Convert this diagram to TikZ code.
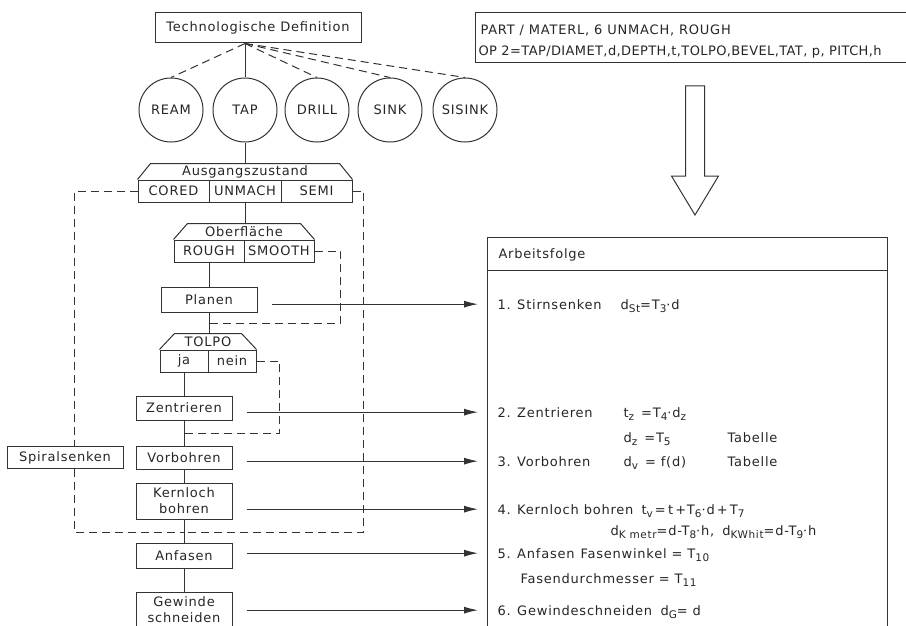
\documentclass[tikz,border=0pt]{standalone}
\usepackage{fontspec}
\setmainfont{DejaVu Sans}[LetterSpace=6]
\usetikzlibrary{arrows.meta}

\newcommand\sbs[1]{\raisebox{-0.45ex}{\fontsize{10.5}{12}\selectfont #1}}

\begin{document}
\begin{tikzpicture}[x=1pt,y=-1pt,line width=1pt,draw=black!80,text=black!85,
    font=\fontsize{13}{16}\selectfont,>={Latex[length=14pt,width=7pt]}]
    \tikzstyle{box}=[draw,minimum width=96pt,minimum height=24pt,inner sep=0pt,align=center]
    \tikzstyle{op}=[draw,circle,minimum size=64pt,inner sep=0pt]
    \tikzstyle{cell}=[draw,minimum height=22pt,inner sep=0pt]
    \tikzstyle{header}=[minimum height=16pt,inner sep=0pt]
    \tikzstyle{ausweich}=[dash pattern=on 8pt off 5pt]
    \tikzstyle{flow}=[->,shorten <=14pt,shorten >=19pt]
    \tikzstyle{entry}=[anchor=base west,inner sep=0pt]

    \useasboundingbox (0,0) rectangle (906,626);

    % Definition und Operationen
    \node[box,minimum width=206pt,minimum height=30pt] (def) at (258,28) {Technologische Definition};
    \foreach \name/\x in {REAM/171,TAP/245,DRILL/317,SINK/390,SISINK/465}
        \node[op] (\name) at (\x,110) {\name};
    \coordinate (defpt) at (def.south -| TAP.north);
    \draw (defpt) -- (TAP);
    \foreach \name in {REAM,DRILL,SINK,SISINK}
        \draw[ausweich] (defpt) -- (\name.north);

    % Entscheidungen
    \node[header] (ausg) at (245,172) {Ausgangszustand};
    \node[cell,minimum width=71pt] (cored) at (173.5,191) {CORED};
    \node[cell,minimum width=72pt] (unmach) at (245,191) {UNMACH};
    \node[cell,minimum width=71pt] (semi) at (316.5,191) {SEMI};
    \draw (cored.north west) -- ++(13,-16) -- ([xshift=-13pt,yshift=16pt]semi.north east) -- (semi.north east);

    \node[header] (ober) at (244,232) {Oberfläche};
    \node[cell,minimum width=70pt] (rough) at (209,251) {ROUGH};
    \node[cell,minimum width=70pt] (smooth) at (279,251) {SMOOTH};
    \draw (rough.north west) -- ++(14,-16) -- ([xshift=-14pt,yshift=16pt]smooth.north east) -- (smooth.north east);

    \node[box,minimum height=25pt] (planen) at (209,300) {Planen};

    \node[header] (tolpo) at (208,342) {TOLPO};
    \node[cell,minimum width=48pt] (ja) at (184,361) {ja};
    \node[cell,minimum width=48pt] (nein) at (232,361) {nein};
    \draw (ja.north west) -- ++(15,-16) -- ([xshift=-15pt,yshift=16pt]nein.north east) -- (nein.north east);

    % Arbeitsschritte
    \node[box] (zen) at (184,408) {Zentrieren};
    \node[box,minimum height=23pt] (vor) at (184,457.5) {Vorbohren};
    \node[box,minimum height=36pt] (kern) at (184,501) {Kernloch\\bohren};
    \node[box,minimum height=25pt] (anf) at (184,555.5) {Anfasen};
    \node[box,minimum height=36pt] (gew) at (184,610) {Gewinde\\schneiden};
    \node[box,minimum width=116pt,minimum height=22pt] (spiral) at (65,457.5) {Spiralsenken};

    \draw (TAP) -- (ausg);
    \draw (unmach.south) -- (unmach.south |- ober.north);
    \draw (rough) -- (planen);
    \draw (planen) -- (planen |- tolpo.north);
    \draw (ja) -- (zen);
    \draw (zen) -- (vor);
    \draw (vor) -- (kern);
    \draw (kern) -- (anf);
    \draw (anf) -- (gew);

    \coordinate (j1) at (209,323);
    \coordinate (j2) at (184,433);
    \coordinate (j3) at (184,532);
    \draw[ausweich] (smooth.east) -- ++(26,0) |- (j1);
    \draw[ausweich] (nein.east) -- ++(23,0) |- (j2);
    \draw[ausweich] (cored.west) -| ([xshift=9pt]spiral.north);
    \draw[ausweich] ([xshift=9pt]spiral.south) |- (j3);
    \draw[ausweich] (semi.east) -- ++(11,0) |- (j3);

    % Eingabe
    \draw (906,13) -- (475,13) -- (475,63) -- (906,63);
    \node[entry] (part) at (480,35) {PART / MATERL, 6 UNMACH, ROUGH};
    \node[entry,font=\fontsize{13}{16}\selectfont\addfontfeature{LetterSpace=3}] (opline) at (478,56)
        {OP 2=TAP/DIAMET,d,DEPTH,t,TOLPO,BEVEL,TAT, p, PITCH,h};
    \draw (685.5,86) -- (704.5,86) -- (704.5,176) -- (718.5,176) -- (695,215)
        -- (671.5,176) -- (685.5,176) -- cycle;

    % Arbeitsfolge
    \draw (487,630) |- (887,237) -- (887,630);
    \draw (487,270) -- (887,270);
    \node[entry] (folge) at (498,258) {Arbeitsfolge};
    \node[entry] (s1) at (497,309) {1. Stirnsenken};
    \node[entry] at (620,309) {d\sbs{St}=T\sbs{3}·d};
    \node[entry] (s2) at (497,417) {2. Zentrieren};
    \node[entry] at (623,417) {t\sbs{z}\, =T\sbs{4}·d\sbs{z}};
    \node[entry] at (623,442) {d\sbs{z}\, =T\sbs{5}};
    \node[entry] at (727,442) {Tabelle};
    \node[entry] (s3) at (497,466) {3. Vorbohren};
    \node[entry] at (623,466) {d\sbs{v}\, = f(d)};
    \node[entry] at (727,466) {Tabelle};
    \node[entry] (s4) at (497,514) {4. Kernloch bohren};
    \node[entry] at (641,514) {t\sbs{v}\,=\,t\,+T\sbs{6}·d\,+\,T\sbs{7}};
    \node[entry] at (610,535) {d\sbs{K metr}=d-T\sbs{8}·h,\hspace{8pt}d\sbs{KWhit}=d-T\sbs{9}·h};
    \node[entry] (s5) at (497,558) {5. Anfasen};
    \node[entry] at (580,558) {Fasenwinkel = T\sbs{10}};
    \node[entry] at (520,583) {Fasendurchmesser = T\sbs{11}};
    \node[entry] (s6) at (497,615) {6. Gewindeschneiden};
    \node[entry] at (660,615) {d\sbs{G}= d};

    \foreach \src/\dst in {planen/s1,zen/s2,vor/s3,kern/s4,anf/s5,gew/s6}
        \draw[flow] (\src.east |- \dst.west) -- (\dst.west);
\end{tikzpicture}
\end{document}
